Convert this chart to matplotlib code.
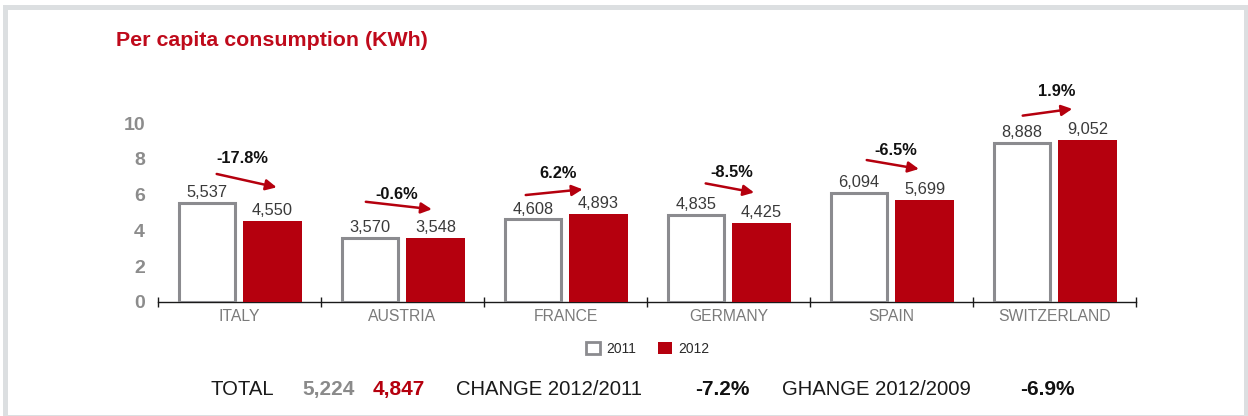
import matplotlib
matplotlib.use("Agg")
import matplotlib.pyplot as plt
from matplotlib.patches import Patch, Rectangle

# ---- data ----
countries = ["ITALY", "AUSTRIA", "FRANCE", "GERMANY", "SPAIN", "SWITZERLAND"]
kwh_2011 = [5537, 3570, 4608, 4835, 6094, 8888]
kwh_2012 = [4550, 3548, 4893, 4425, 5699, 9052]
change_pct = [-17.8, -0.6, 6.2, -8.5, -6.5, 1.9]
years = ["2011", "2012"]
total_2011 = 5224
total_2012 = 4847
change_12_11 = -7.2
change_12_09 = -6.9
y_ticks = [0, 2, 4, 6, 8, 10]

# ---- layout of the trend arrows (thousand kWh, offsets from group centre) ----
arrow_x0 = [-0.14, -0.225, -0.244, -0.14, -0.152, -0.195]
arrow_x1 = [0.228, 0.18, 0.105, 0.157, 0.168, 0.109]
arrow_y0 = [7.16, 5.60, 5.98, 6.63, 7.94, 10.43]
arrow_y1 = [6.41, 5.18, 6.30, 6.12, 7.44, 10.81]
pct_dx = [0.02, -0.036, -0.045, 0.023, 0.025, 0.013]
pct_y = [8.05, 6.02, 7.16, 7.23, 8.46, 11.77]

RED = "#b5000e"
TITLE_RED = "#bf0a1b"
GREY_EDGE = "#8b8b8f"
FONT = "Liberation Sans"

plt.rcParams["font.family"] = [FONT, "DejaVu Sans"]

W, H = 1248, 416
fig = plt.figure(figsize=(W / 100, H / 100), dpi=100)
fig.patch.set_facecolor("white")


def fx(x):
    return x / W


def fy(y):
    return 1 - y / H


# light frame around the panel
fig.patches.append(Rectangle((fx(4.5), fy(416.5)), fx(1245.5) - fx(4.5), fy(6.5) - fy(416.5),
                             transform=fig.transFigure, fill=False,
                             edgecolor="#dcdfe1", linewidth=3.6, zorder=0))

ax = fig.add_axes([fx(158), fy(301.7), fx(1136) - fx(158), 12 * 17.84 / H])
ax.set_xlim(-0.5, 5.5)
ax.set_ylim(0, 12)

x = list(range(len(countries)))
vals11 = [v / 1000 for v in kwh_2011]
vals12 = [v / 1000 for v in kwh_2012]

ax.bar([i - 0.2 for i in x], vals11, width=0.348, facecolor="white",
       edgecolor=GREY_EDGE, linewidth=2.2, zorder=3)
ax.bar([i + 0.203 for i in x], vals12, width=0.36, color=RED, linewidth=0, zorder=3)

for i in x:
    ax.annotate(f"{kwh_2011[i]:,}", (i - 0.2, vals11[i]), xytext=(0, 4.3),
                textcoords="offset points", ha="center", va="baseline",
                fontsize=11.8, color="#3a3a3a", zorder=5)
    ax.annotate(f"{kwh_2012[i]:,}", (i + 0.203, vals12[i]), xytext=(0, 4.3),
                textcoords="offset points", ha="center", va="baseline",
                fontsize=11.8, color="#3a3a3a", zorder=5)
    ax.annotate("", xy=(i + arrow_x1[i], arrow_y1[i]), xytext=(i + arrow_x0[i], arrow_y0[i]),
                arrowprops=dict(arrowstyle="-|>", color=RED, lw=1.8, mutation_scale=16,
                                shrinkA=0, shrinkB=0), annotation_clip=False, zorder=6)
    ax.text(i + pct_dx[i], pct_y[i], f"{change_pct[i]:.1f}%", ha="center", va="center",
            fontsize=11.8, fontweight="bold", color="#111111", clip_on=False)

# axes styling
for side in ("left", "right", "top"):
    ax.spines[side].set_visible(False)
ax.spines["bottom"].set_color("#1a1a1a")
ax.spines["bottom"].set_linewidth(1.0)

ax.set_yticks(y_ticks)
ax.set_yticklabels([str(t) for t in y_ticks], fontsize=14, fontweight="bold", color="#8c8c8c")
ax.tick_params(axis="y", length=0, pad=9.4)

ax.set_xticks([i - 0.5 for i in range(len(countries) + 1)])
ax.set_xticklabels([])
ax.tick_params(axis="x", which="major", direction="inout", length=6.5, width=1.0, color="#1a1a1a")
ax.set_xticks(x, minor=True)
ax.set_xticklabels(countries, minor=True, fontsize=11.3, color="#7a7a7a")
ax.tick_params(axis="x", which="minor", length=0, pad=5)

# title
fig.text(fx(116), fy(46), "Per capita consumption (KWh)", fontsize=15.4, fontweight="bold",
         color=TITLE_RED, ha="left", va="baseline")

# legend
handles = [Patch(facecolor="white", edgecolor=GREY_EDGE, linewidth=2.0, label=years[0]),
           Patch(facecolor=RED, edgecolor=RED, linewidth=0, label=years[1])]
fig.legend(handles=handles, loc="center", bbox_to_anchor=(fx(648), fy(349)), ncol=2,
           frameon=False, fontsize=10, handlelength=1.0, handleheight=1.0,
           handletextpad=0.45, columnspacing=1.6, labelcolor="#2a2a2a")

# totals line
base = fy(395)
fig.text(fx(210), base, "TOTAL", fontsize=14.6, color="#1a1a1a", va="baseline")
fig.text(fx(302), base, f"{total_2011:,}", fontsize=15, fontweight="bold", color="#8a8a8a", va="baseline")
fig.text(fx(373), base, f"{total_2012:,}", fontsize=15, fontweight="bold", color=RED, va="baseline")
fig.text(fx(456), base, "CHANGE 2012/2011", fontsize=14.6, color="#1a1a1a", va="baseline")
fig.text(fx(695), base, f"{change_12_11:.1f}%", fontsize=15, fontweight="bold", color="#111111", va="baseline")
fig.text(fx(782), base, "GHANGE 2012/2009", fontsize=14.6, color="#1a1a1a", va="baseline")
fig.text(fx(1020), base, f"{change_12_09:.1f}%", fontsize=15, fontweight="bold", color="#111111", va="baseline")

fig.savefig("out.png", dpi=100, facecolor="white")
